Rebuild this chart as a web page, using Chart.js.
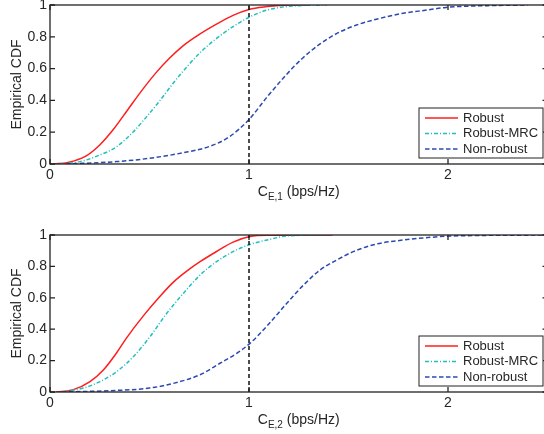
<!DOCTYPE html>
<html>
<head>
<meta charset="utf-8">
<script src="https://cdn.jsdelivr.net/npm/chart.js@4.4.0/dist/chart.umd.min.js"></script>
<style>
  html, body { margin: 0; padding: 0; background: #fff; overflow: hidden; width: 544px; height: 434px; }
  canvas { position: absolute; left: 0; }
  #cdf1 { top: 0; }
  #cdf2 { top: 229px; }
</style>
</head>
<body>
<canvas id="cdf1" width="560" height="217"></canvas>
<canvas id="cdf2" width="560" height="217"></canvas>
<script>
// tick values
const xTickValues = [0, 1, 2];
const yTickValues = [0, 0.2, 0.4, 0.6, 0.8, 1];
const seriesNames = ['Robust', 'Robust-MRC', 'Non-robust'];

// threshold line at C = 1
const vlineX = [1, 1];
const vlineY = [0, 1];

// subplot 1 : C_E,1
const robust1X = [0.02, 0.09, 0.18, 0.25, 0.32, 0.39, 0.46, 0.53, 0.60, 0.67, 0.75, 0.83, 0.92, 1.0, 1.09, 1.15, 1.3];
const robust1Y = [0, 0.01, 0.05, 0.12, 0.22, 0.34, 0.46, 0.57, 0.665, 0.745, 0.815, 0.875, 0.935, 0.972, 0.99, 0.997, 1];
const mrc1X = [0.05, 0.151, 0.251, 0.335, 0.419, 0.486, 0.553, 0.62, 0.687, 0.754, 0.837, 0.92, 1.005, 1.09, 1.156, 1.25, 1.39];
const mrc1Y = [0, 0.015, 0.057, 0.109, 0.203, 0.298, 0.40, 0.51, 0.61, 0.70, 0.79, 0.864, 0.926, 0.968, 0.985, 0.996, 1];
const non1X = [0.08, 0.335, 0.5, 0.67, 0.80, 0.90, 1.0, 1.09, 1.19, 1.273, 1.357, 1.44, 1.54, 1.658, 1.775, 1.893, 1.99, 2.2, 2.4];
const non1Y = [0, 0.015, 0.036, 0.071, 0.11, 0.17, 0.28, 0.42, 0.565, 0.67, 0.755, 0.82, 0.874, 0.916, 0.948, 0.968, 0.985, 0.996, 1];

// subplot 2 : C_E,2
const robust2X = [0.03, 0.117, 0.201, 0.268, 0.335, 0.385, 0.469, 0.553, 0.62, 0.687, 0.754, 0.837, 0.92, 1.005, 1.1, 1.42];
const robust2Y = [0, 0.015, 0.066, 0.14, 0.25, 0.345, 0.485, 0.61, 0.70, 0.77, 0.83, 0.895, 0.955, 0.99, 0.998, 1];
const mrc2X = [0.06, 0.167, 0.251, 0.335, 0.419, 0.503, 0.586, 0.67, 0.754, 0.837, 0.92, 1.005, 1.09, 1.2, 1.4];
const mrc2Y = [0, 0.025, 0.066, 0.13, 0.225, 0.353, 0.5, 0.628, 0.745, 0.83, 0.894, 0.94, 0.968, 0.995, 1];
const non2X = [0.06, 0.335, 0.5, 0.62, 0.754, 0.854, 0.938, 1.005, 1.09, 1.19, 1.273, 1.357, 1.44, 1.524, 1.642, 1.775, 1.91, 2.01, 2.5];
const non2Y = [0, 0.01, 0.025, 0.055, 0.11, 0.183, 0.246, 0.31, 0.42, 0.565, 0.68, 0.777, 0.84, 0.894, 0.943, 0.968, 0.985, 0.993, 1];

Chart.defaults.font.family = '"Liberation Sans", Arial, sans-serif';
Chart.defaults.color = '#262626';

const TXT = '#262626';
const toPts = (xs, ys) => xs.map((x, i) => ({ x: x, y: ys[i] }));

// frame, inward ticks, x title with subscript, legend box
const matlabPlugin = {
  id: 'matlabLook',
  afterDraw(chart, args, opts) {
    const ctx = chart.ctx, a = chart.chartArea;
    const xs = chart.scales.x, ys = chart.scales.y;
    ctx.save();
    ctx.strokeStyle = '#222';
    ctx.lineWidth = 1.3;
    ctx.setLineDash([]);
    ctx.strokeRect(a.left, a.top, a.right - a.left, a.bottom - a.top);
    ctx.beginPath();
    xs.ticks.forEach(t => {
      const p = xs.getPixelForValue(t.value);
      ctx.moveTo(p, a.bottom); ctx.lineTo(p, a.bottom - 5);
      ctx.moveTo(p, a.top); ctx.lineTo(p, a.top + 5);
    });
    ys.ticks.forEach(t => {
      const p = ys.getPixelForValue(t.value);
      ctx.moveTo(a.left, p); ctx.lineTo(a.left + 5, p);
      ctx.moveTo(a.right, p); ctx.lineTo(a.right - 5, p);
    });
    ctx.stroke();

    // x axis title: C_{E,n} (bps/Hz)
    const big = '14px "Liberation Sans", Arial, sans-serif';
    const small = '10px "Liberation Sans", Arial, sans-serif';
    ctx.fillStyle = TXT;
    ctx.textBaseline = 'alphabetic';
    ctx.textAlign = 'left';
    ctx.font = big;
    const wC = ctx.measureText('C').width;
    const wRest = ctx.measureText(' (bps/Hz)').width;
    ctx.font = small;
    const wSub = ctx.measureText(opts.sub).width;
    const total = wC + wSub + wRest;
    const x0 = (a.left + a.right) / 2 - total / 2;
    const base = a.bottom + 32;
    ctx.font = big;
    ctx.fillText('C', x0, base);
    ctx.font = small;
    ctx.fillText(opts.sub, x0 + wC, base + 4);
    ctx.font = big;
    ctx.fillText(' (bps/Hz)', x0 + wC + wSub, base);

    // legend (south-east, inside)
    const bw = 124, bh = 50;
    const bx = a.right - 4.5 - bw, by = a.bottom - 6 - bh;
    ctx.fillStyle = '#fff';
    ctx.fillRect(bx, by, bw, bh);
    ctx.strokeStyle = '#222';
    ctx.lineWidth = 1;
    ctx.strokeRect(bx, by, bw, bh);
    const rows = [10, 25.5, 41];
    const items = chart.data.datasets.filter(d => d.label);
    items.forEach((d, i) => {
      const yy = by + rows[i];
      ctx.beginPath();
      ctx.strokeStyle = d.borderColor;
      ctx.lineWidth = d.borderWidth;
      ctx.setLineDash(d.borderDash || []);
      ctx.moveTo(bx + 6, yy);
      ctx.lineTo(bx + 39, yy);
      ctx.stroke();
      ctx.setLineDash([]);
      ctx.fillStyle = TXT;
      ctx.font = '13px "Liberation Sans", Arial, sans-serif';
      ctx.textBaseline = 'middle';
      ctx.fillText(d.label, bx + 44, yy);
    });
    ctx.restore();
  }
};

function makeCdf(id, sub, rX, rY, mX, mY, nX, nY, topPx, bottomPx) {
  const H = 217;
  return new Chart(document.getElementById(id), {
    type: 'line',
    data: {
      datasets: [
        { label: seriesNames[0], data: toPts(rX, rY), borderColor: '#ff1e1e', borderWidth: 1.5, order: 4 },
        { label: seriesNames[1], data: toPts(mX, mY), borderColor: '#22bfbf', borderWidth: 1.5, borderDash: [4, 2, 1, 2], order: 3 },
        { label: seriesNames[2], data: toPts(nX, nY), borderColor: '#2b49b0', borderWidth: 1.5, borderDash: [4.5, 2.5], order: 2 },
        { label: '', data: toPts(vlineX, vlineY), borderColor: '#111', borderWidth: 1.5, borderDash: [4, 3], order: 1, cubicInterpolationMode: 'default', tension: 0 }
      ]
    },
    options: {
      responsive: false,
      animation: false,
      layout: { padding: { top: topPx, right: 12.5, left: 0, bottom: 0 } },
      elements: {
        point: { radius: 0 },
        line: { cubicInterpolationMode: 'monotone', fill: false }
      },
      plugins: {
        legend: { display: false },
        tooltip: { enabled: false },
        matlabLook: { sub: sub }
      },
      scales: {
        x: {
          type: 'linear',
          min: 0, max: 2.5,
          afterBuildTicks: s => { s.ticks = xTickValues.map(v => ({ value: v })); },
          afterFit: s => { s.height = H - bottomPx; s.paddingLeft = 0; s.paddingRight = 0; },
          grid: { display: false, drawTicks: false },
          border: { display: false },
          ticks: { font: { size: 14 }, color: TXT, padding: 3, maxRotation: 0 }
        },
        y: {
          min: 0, max: 1,
          afterBuildTicks: s => { s.ticks = yTickValues.map(v => ({ value: v })); },
          afterFit: s => { s.width = 50; s.paddingTop = 0; s.paddingBottom = 0; },
          grid: { display: false, drawTicks: false },
          border: { display: false },
          ticks: { font: { size: 14 }, color: TXT, padding: 3, callback: v => String(v) },
          title: { display: true, text: 'Empirical CDF', font: { size: 14 }, color: TXT, padding: { top: 8.6, bottom: 0 } }
        }
      }
    },
    plugins: [matlabPlugin]
  });
}

makeCdf('cdf1', 'E,1', robust1X, robust1Y, mrc1X, mrc1Y, non1X, non1Y, 5, 164);
makeCdf('cdf2', 'E,2', robust2X, robust2Y, mrc2X, mrc2Y, non2X, non2Y, 6, 163);
</script>
</body>
</html>
